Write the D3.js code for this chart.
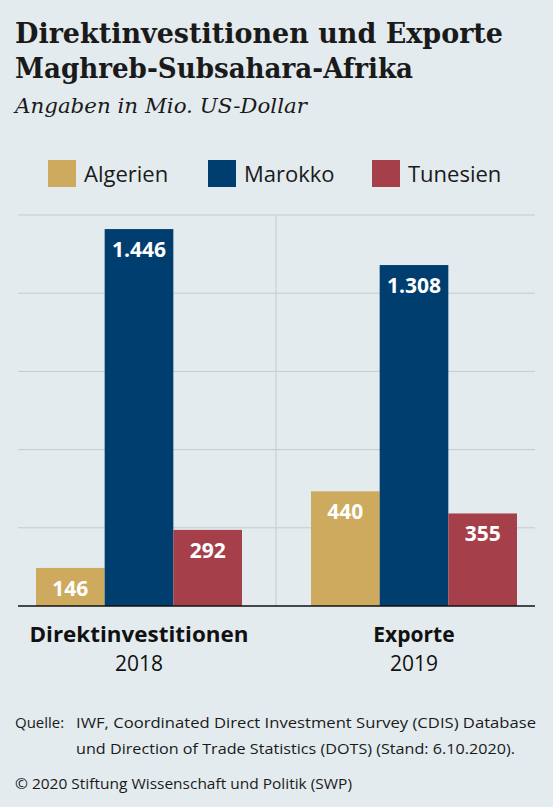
<!DOCTYPE html><html><head><meta charset="utf-8"><script src="https://cdn.jsdelivr.net/npm/d3@7"></script>
<style>body{margin:0;background:#e3ebee}svg{display:block}</style></head><body><svg id="c" width="553" height="807"></svg><script>
const groups=["Direktinvestitionen","Exporte"];
const years=["2018","2019"];
const series=["Algerien","Marokko","Tunesien"];
const colors=["#cdaa5e","#003e70","#a5404a"];
const values=[[146,1446,292],[440,1308,355]];
const ticks=[0,300,600,900,1200,1500];
const svg=d3.select("#c");
svg.append("rect").attr("width",553).attr("height",807).attr("fill","#e3ebee");
const serif="'DejaVu Serif','Liberation Serif',serif", sans="'Open Sans','Noto Sans',sans-serif";
svg.append("text").attr("x",15).attr("y",43).attr("font-family",serif).attr("font-weight","bold").attr("font-size",27).attr("fill","#1a1a1a").attr("textLength",488).attr("lengthAdjust","spacingAndGlyphs").text("Direktinvestitionen und Exporte");
svg.append("text").attr("x",15).attr("y",78).attr("font-family",serif).attr("font-weight","bold").attr("font-size",27).attr("fill","#1a1a1a").attr("textLength",398).attr("lengthAdjust","spacingAndGlyphs").text("Maghreb-Subsahara-Afrika");
svg.append("text").attr("x",15).attr("y",113).attr("font-family",serif).attr("font-style","italic").attr("font-size",21).attr("fill","#1a1a1a").attr("textLength",292).attr("lengthAdjust","spacingAndGlyphs").text("Angaben in Mio. US-Dollar");
const lx=[48,208,372];
series.forEach((s,i)=>{svg.append("rect").attr("x",lx[i]).attr("y",160).attr("width",28).attr("height",27).attr("fill",colors[i]);
svg.append("text").attr("x",lx[i]+36).attr("y",182).attr("font-family",sans).attr("font-size",22).attr("fill","#1a1a1a").text(s);});
const y=d3.scaleLinear().domain([0,1500]).range([606,215]);
const x0=d3.scaleBand().domain(groups).range([18,535]).paddingInner(0.251).paddingOuter(0.0655);
const x1=d3.scaleBand().domain(series).range([0,x0.bandwidth()]);
ticks.slice(1).forEach(t=>svg.append("line").attr("x1",18).attr("x2",535).attr("y1",y(t)).attr("y2",y(t)).attr("stroke","#c3cbce").attr("stroke-width",1));
svg.append("line").attr("x1",276).attr("x2",276).attr("y1",215).attr("y2",606).attr("stroke","#c3cbce");
groups.forEach((g,gi)=>{series.forEach((s,si)=>{const v=values[gi][si];const bx=x0(g)+x1(s);
svg.append("rect").attr("x",bx).attr("y",y(v)).attr("width",x1.bandwidth()).attr("height",y(0)-y(v)).attr("fill",colors[si]);
svg.append("text").attr("x",bx+x1.bandwidth()/2).attr("y",y(v)+28).attr("text-anchor","middle").attr("font-family",sans).attr("font-weight","bold").attr("font-size",21).attr("fill","#fff").text(d3.format(",")(v).replace(",","."));});
const cx=x0(g)+x0.bandwidth()/2;
const t=svg.append("text").attr("x",cx).attr("y",642).attr("text-anchor","middle").attr("font-family",sans).attr("font-weight","bold").attr("font-size",21).attr("fill","#111").text(g);
if(gi==0)t.attr("textLength",219).attr("lengthAdjust","spacingAndGlyphs");
svg.append("text").attr("x",cx).attr("y",671).attr("text-anchor","middle").attr("font-family",sans).attr("font-size",21).attr("fill","#111").text(years[gi]);});
svg.append("line").attr("x1",18).attr("x2",535).attr("y1",606).attr("y2",606).attr("stroke","#111").attr("stroke-width",1.5);
const f=(t,xx,yy,L)=>{const e=svg.append("text").attr("x",xx).attr("y",yy).attr("font-family",sans).attr("font-size",15).attr("fill","#1a1a1a").text(t);if(L)e.attr("textLength",L).attr("lengthAdjust","spacingAndGlyphs");};
f("Quelle:",15,728);f("IWF, Coordinated Direct Investment Survey (CDIS) Database",76,728,460);
f("und Direction of Trade Statistics (DOTS) (Stand: 6.10.2020).",76,754,439);
f("© 2020 Stiftung Wissenschaft und Politik (SWP)",15,789,337);
</script></body></html>
